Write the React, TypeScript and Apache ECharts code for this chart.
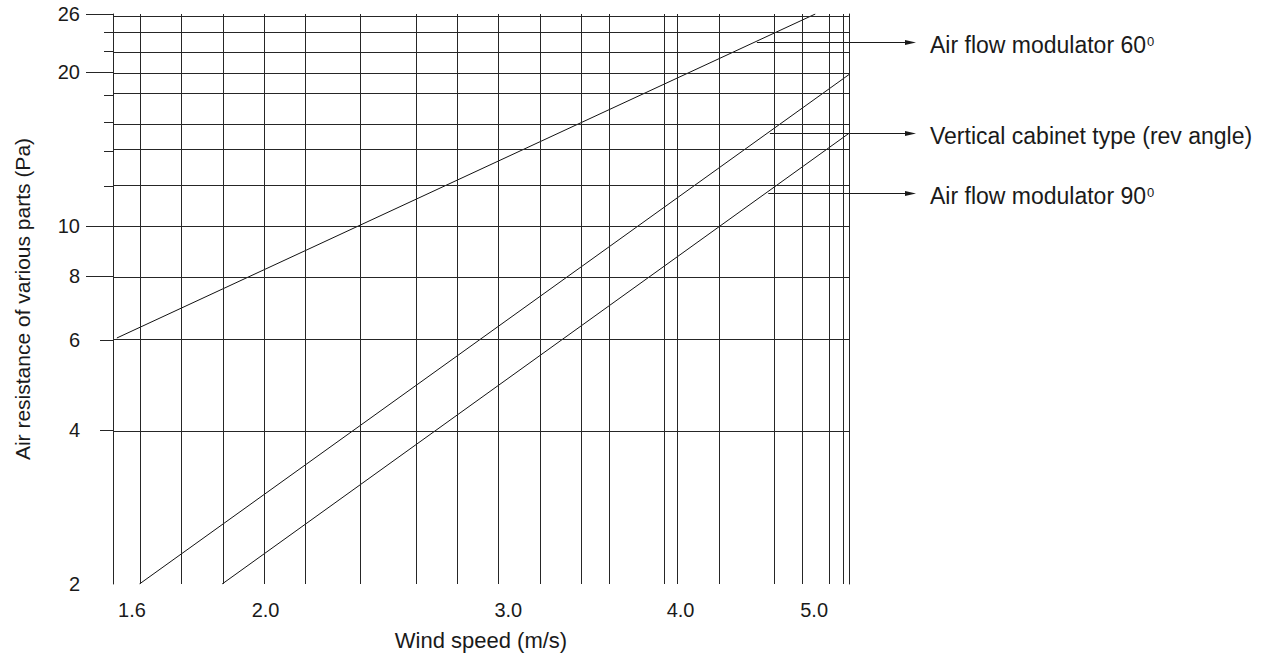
import React, { useEffect, useRef } from "react";
import * as echarts from "echarts";

// ---- axis extents, ticks and labels (values, log-log chart) ----
const xMin = 1.55;
const xMax = 5.3;
const yMin = 2;
const yMax = 26;
const xTickLabels = [1.6, 2.0, 3.0, 4.0, 5.0];
const yTickLabels = [2, 4, 6, 8, 10, 20, 26];

// ---- grid lines ----
const xGridValues = [1.55, 1.64, 1.73, 1.88, 1.98, 2.14, 2.32, 2.59, 2.75, 2.95, 3.17, 3.37, 3.58, 3.85, 4.01, 4.24, 4.66, 4.87, 5.09, 5.3];
const yGridValues = [2, 4, 6, 8, 10, 12, 14, 16, 18, 20, 22, 24, 26];
const yLongTicks = [8, 10, 20, 26];
const yMidTicks = [4, 6];
const yShortTicks = [12, 14, 16, 18, 22, 24];

// ---- series (wind speed m/s, air resistance Pa) ----
const seriesNames = ["Air flow modulator 60", "Vertical cabinet type (rev angle)", "Air flow modulator 90"];
const windSpeed60 = [1.56, 5.01];
const resistance60 = [6.05, 26];
const windSpeedCabinet = [1.62, 5.3];
const resistanceCabinet = [2, 19.8];
const windSpeed90 = [1.86, 5.3];
const resistance90 = [2, 15.2];

// ---- annotations (callout texts and the resistance level where each arrow leaves its line) ----
const annotationTexts = [
  "{a|Air flow modulator 60}{s|0}",
  "{a|Vertical cabinet type (rev angle)}",
  "{a|Air flow modulator 90}{s|0}",
];
const annotationResistance = [22.9, 15.2, 11.6];

export default function App() {
  const ref = useRef<HTMLDivElement>(null);

  useEffect(() => {
    document.body.style.margin = "0";
    const el = ref.current;
    if (!el) return;
    const chart = echarts.init(el, null, { renderer: "svg" });
    const lg = Math.log10;
    const font = "'Liberation Sans', Arial, Helvetica, sans-serif";
    const ink = "#1a1a1a";
    const gridColor = "#262626";
    const tickStyle = { color: gridColor, width: 1 };

    const makeLine = (xs: number[], ys: number[]) => xs.map((x, i) => [lg(x), lg(ys[i])]);
    const seriesData = [
      makeLine(windSpeed60, resistance60),
      makeLine(windSpeedCabinet, resistanceCabinet),
      makeLine(windSpeed90, resistance90),
    ];

    const baseY: any = {
      type: "value",
      min: lg(yMin),
      max: lg(yMax),
      position: "left",
      axisLine: { show: false },
      splitLine: { show: false },
    };

    const option: any = {
      animation: false,
      backgroundColor: "#ffffff",
      textStyle: { fontFamily: font },
      grid: { left: 113, right: 414, top: 14, bottom: 78, containLabel: false },
      xAxis: {
        type: "value",
        min: lg(xMin),
        max: lg(xMax),
        axisLine: { show: false },
        axisTick: { show: false },
        splitLine: { show: false },
        axisLabel: {
          customValues: xTickLabels.map(lg),
          formatter: (v: number) => Math.pow(10, v).toFixed(1),
          margin: 16,
          fontSize: 20,
          color: ink,
          fontFamily: font,
          showMinLabel: true,
          showMaxLabel: true,
        },
        name: "Wind speed (m/s)",
        nameLocation: "middle",
        nameGap: 45,
        nameTextStyle: { fontSize: 22, color: ink, fontFamily: font },
      },
      yAxis: [
        {
          ...baseY,
          axisLine: { show: true, lineStyle: tickStyle },
          axisTick: { show: true, customValues: yLongTicks.map(lg), length: 27, lineStyle: tickStyle },
          axisLabel: {
            customValues: yTickLabels.map(lg),
            formatter: (v: number) => String(Math.round(Math.pow(10, v))),
            margin: 33,
            fontSize: 20,
            color: ink,
            fontFamily: font,
            showMinLabel: true,
            showMaxLabel: true,
          },
          name: "Air resistance of various parts (Pa)",
          nameLocation: "middle",
          nameGap: 80,
          nameTextStyle: { fontSize: 21, color: ink, fontFamily: font },
        },
        {
          ...baseY,
          axisTick: { show: true, customValues: yMidTicks.map(lg), length: 13, lineStyle: tickStyle },
          axisLabel: { show: false },
        },
        {
          ...baseY,
          axisTick: { show: true, customValues: yShortTicks.map(lg), length: 9, lineStyle: tickStyle },
          axisLabel: { show: false },
        },
        {
          ...baseY,
          position: "right",
          axisLine: { show: true, lineStyle: tickStyle },
          axisTick: { show: false },
          axisLabel: { show: false },
        },
      ],
      series: seriesData.map((d, i) => ({
        name: seriesNames[i],
        type: "line",
        data: d,
        symbol: "none",
        showSymbol: false,
        silent: true,
        z: 3,
        lineStyle: { color: "#111111", width: 1 },
        markLine:
          i === 0
            ? {
                silent: true,
                symbol: ["none", "none"],
                animation: false,
                label: { show: false },
                emphasis: { disabled: true },
                lineStyle: { color: gridColor, width: 1, type: "solid" },
                data: [
                  ...yGridValues.map((v) => ({ yAxis: lg(v) })),
                  ...xGridValues.map((v) => ({ xAxis: lg(v) })),
                ],
              }
            : undefined,
      })),
    };

    chart.setOption(option);

    const graphics: any[] = [];
    annotationResistance.forEach((r, i) => {
      const d = seriesData[i];
      const p0 = chart.convertToPixel({ seriesIndex: i }, d[0]) as number[];
      const p1 = chart.convertToPixel({ seriesIndex: i }, d[d.length - 1]) as number[];
      const pa = chart.convertToPixel({ seriesIndex: i }, [d[0][0], lg(r)]) as number[];
      const ya = Math.round(pa[1]) + 0.5;
      const xa = p0[0] + ((ya - p0[1]) * (p1[0] - p0[0])) / (p1[1] - p0[1]) + 3;
      graphics.push({
        type: "line",
        silent: true,
        shape: { x1: xa, y1: ya, x2: 908, y2: ya },
        style: { stroke: ink, lineWidth: 1 },
      });
      graphics.push({
        type: "polygon",
        silent: true,
        shape: { points: [[905, ya - 2.5], [916, ya], [905, ya + 2.5]] },
        style: { fill: ink },
      });
      graphics.push({
        type: "text",
        silent: true,
        x: 930,
        y: ya + 2,
        style: {
          text: annotationTexts[i],
          fill: ink,
          fontSize: 23,
          fontFamily: font,
          align: "left",
          verticalAlign: "middle",
          rich: {
            a: { fontSize: 23, fontFamily: font, fill: ink },
            s: { fontSize: 13, fontFamily: font, fill: ink, verticalAlign: "top", padding: [2, 0, 0, 1] },
          },
        },
      });
    });
    chart.setOption({ graphic: graphics });

    return () => {
      chart.dispose();
    };
  }, []);

  return <div ref={ref} style={{ width: 1263, height: 662, background: "#fff" }} />;
}
